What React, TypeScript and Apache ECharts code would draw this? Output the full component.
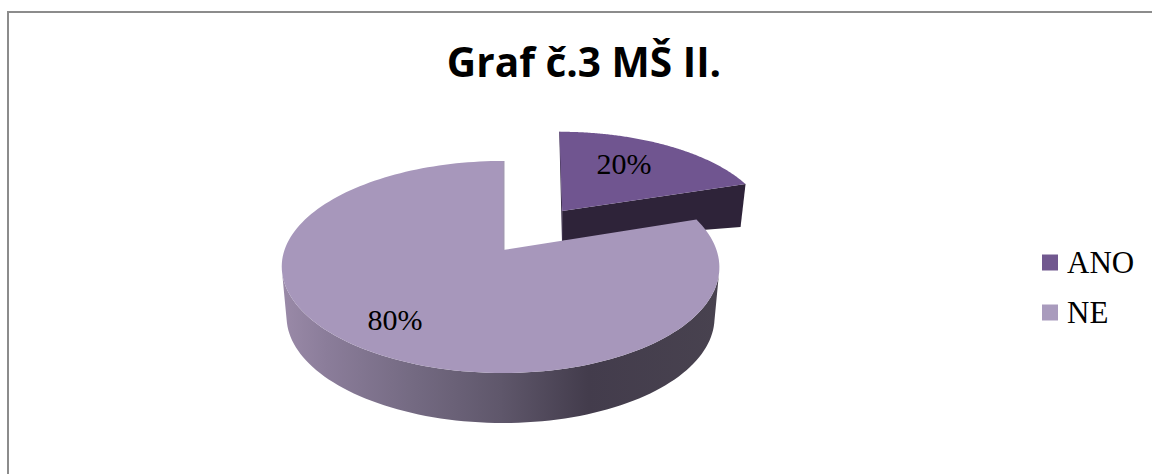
import React, { useEffect, useRef } from "react";
import * as echarts from "echarts";

const titleText = "Graf č.3 MŠ II.";
const categories = ["ANO", "NE"];
const values = [20, 80];
const labels = ["20%", "80%"];

// 3D view: a unit circle seen through a simple perspective projection
const VIEW = { cx: 503, cy: 250, A: 216, B: 103.3, k: 0.16 };
const EXPLODE = [0.496, 0];
const LABEL_RADIUS = [0.66, 0.76];
const LABEL_ANGLE_SHIFT = [-3, 0];
const TOP_COLORS = ["#705590", "#a797bb"];
const SWATCH_COLORS = ["#71588f", "#a99bbd"];

const total = values.reduce((a, b) => a + b, 0);

function sliceAngles(i: number) {
  const before = values.slice(0, i).reduce((a, b) => a + b, 0);
  return [(before / total) * Math.PI * 2, ((before + values[i]) / total) * Math.PI * 2];
}

function project(u: number, v: number): [number, number] {
  const w = 1 - VIEW.k * v;
  return [VIEW.cx + (VIEW.A * u) / w, VIEW.cy + (VIEW.B * v) / w];
}

function renderSlice(i: number) {
  const [a0, a1] = sliceAngles(i);
  const mid = (a0 + a1) / 2;
  const ou = EXPLODE[i] * Math.sin(mid);
  const ov = -EXPLODE[i] * Math.cos(mid);
  // small lens distortion of the original 3D view
  const warp = (u: number, v: number, p: [number, number]): [number, number] =>
    i === 1 ? [p[0] - 2.5 * u * u, p[1]] : [p[0] + 5 * (ov - v), p[1]];
  const arc: [number, number][] = [];
  const front: [number, number][] = [];
  const steps = 160;
  for (let s = 0; s <= steps; s++) {
    const a = a0 + ((a1 - a0) * s) / steps;
    const u = ou + Math.sin(a);
    const v = ov - Math.cos(a);
    const p = warp(u, v, project(u, v));
    arc.push(p);
    if (v >= VIEW.k) front.push(p);
  }
  const apex = project(ou, ov);
  const children: any[] = [];

  if (i === 1) {
    // outer wall of the large slice: only the part facing the viewer
    const bottom = front
      .map(([x, y]): [number, number] => [VIEW.cx - 2.5 + (x - VIEW.cx + 2.5) * 0.978, y + 50])
      .reverse();
    children.push({
      type: "polygon",
      shape: { points: [...front, ...bottom] },
      style: {
        fill: new echarts.graphic.LinearGradient(0, 0, 1, 0, [
          { offset: 0, color: "#9a8aa8" },
          { offset: 0.1, color: "#8b7d9a" },
          { offset: 0.3, color: "#746a82" },
          { offset: 0.5, color: "#5f576b" },
          { offset: 0.7, color: "#433c4c" },
          { offset: 1, color: "#48424f" },
        ]),
      },
    });
    // thin inner edge next to the gap
    const end = arc[arc.length - 1];
    children.push({
      type: "line",
      shape: { x1: end[0] + 0.8, y1: end[1], x2: apex[0] + 0.8, y2: apex[1] },
      style: { stroke: "#8d80a0", lineWidth: 1.2 },
    });
  } else {
    // inner wall of the pulled-out slice
    const right = arc[arc.length - 1];
    children.push({
      type: "polygon",
      shape: {
        points: [apex, right, [right[0] - 5, right[1] + 43], [apex[0], apex[1] + 30]],
      },
      style: { fill: "#2e2339" },
    });
    children.push({
      type: "line",
      shape: { x1: arc[0][0] + 0.3, y1: arc[0][1], x2: apex[0] + 0.3, y2: apex[1] + 30 },
      style: { stroke: "#3a2d4a", lineWidth: 1 },
    });
  }

  children.push({
    type: "polygon",
    shape: { points: [apex, ...arc] },
    style: { fill: TOP_COLORS[i] },
  });

  const la = mid + (LABEL_ANGLE_SHIFT[i] * Math.PI) / 180;
  const [lx, ly] = project(
    ou + LABEL_RADIUS[i] * Math.sin(la),
    ov - LABEL_RADIUS[i] * Math.cos(la)
  );
  children.push({
    type: "text",
    style: {
      x: lx - 1,
      y: ly - 1,
      text: labels[i],
      fontSize: 30,
      fontFamily: "Liberation Serif",
      fill: "#000",
      textAlign: "center",
      textVerticalAlign: "middle",
    },
  });
  return { type: "group", children };
}

export default function App() {
  const ref = useRef<HTMLDivElement>(null);
  useEffect(() => {
    const chart = echarts.init(ref.current!, undefined, { renderer: "svg" });
    chart.setOption({
      animation: false,
      backgroundColor: "#ffffff",
      title: {
        text: titleText,
        left: 579,
        top: 36,
        textAlign: "center",
        textStyle: {
          fontFamily: "Open Sans",
          fontWeight: "bold",
          fontSize: 40.6,
          color: "#000",
        },
      },
      legend: {
        orient: "vertical",
        left: 1037,
        top: 242,
        itemWidth: 16,
        itemHeight: 16,
        itemGap: 19,
        icon: "rect",
        data: categories,
        textStyle: {
          fontFamily: "Liberation Serif",
          fontSize: 31,
          color: "#000",
          padding: [0, 0, 0, 4],
        },
      },
      graphic: [
        {
          type: "polyline",
          shape: { points: [[8, 474], [8, 12], [1152, 12]] },
          style: { stroke: "#8c8c8c", lineWidth: 2, fill: "none" },
        },
      ],
      series: categories.map((name, i) => ({
        type: "custom",
        name,
        coordinateSystem: "none",
        itemStyle: { color: SWATCH_COLORS[i] },
        data: [{ name, value: values[i] }],
        renderItem: () => renderSlice(i),
      })),
    });
    return () => chart.dispose();
  }, []);
  return <div ref={ref} style={{ position: "fixed", left: 0, top: 0, width: 1152, height: 474 }} />;
}
